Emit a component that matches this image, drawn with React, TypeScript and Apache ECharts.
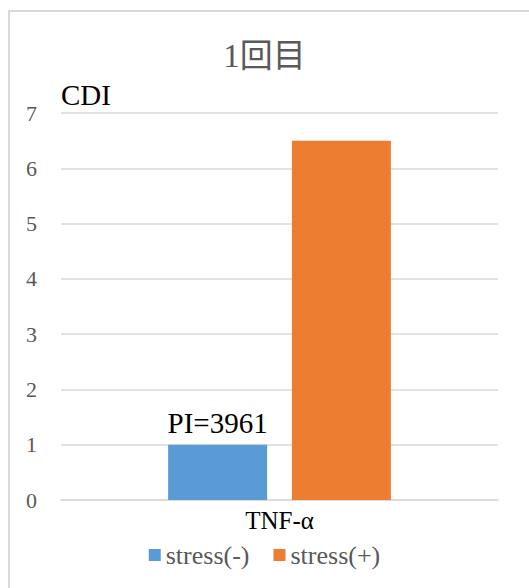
import React, { useEffect, useRef } from "react";
import * as echarts from "echarts";

const categories = ["TNF-α"];
const seriesNames = ["stress(-)", "stress(+)"];
const stressMinus = [1];
const stressPlus = [6.5];
const barLabels = ["PI=3961", ""];
const colors = ["#5B9BD5", "#ED7D31"];

const serif = "'Liberation Serif', 'Noto Sans CJK JP', serif";

export default function App() {
  const ref = useRef<HTMLDivElement>(null);

  useEffect(() => {
    if (!ref.current) return;
    const chart = echarts.init(ref.current, undefined, { renderer: "svg" });
    chart.setOption({
      animation: false,
      backgroundColor: "#ffffff",
      color: colors,
      textStyle: { fontFamily: serif },
      title: {
        text: "1回目",
        left: "center",
        top: 34,
        textStyle: { fontSize: 33, fontWeight: "normal", color: "#595959", fontFamily: serif },
      },
      graphic: [
        {
          type: "rect",
          silent: true,
          z: -1,
          shape: { x: 9, y: 11, width: 620, height: 620 },
          style: { fill: "none", stroke: "#d9d9d9", lineWidth: 2 },
        },
      ],
      legend: {
        bottom: 15,
        left: "center",
        icon: "rect",
        itemWidth: 12,
        itemHeight: 12,
        itemGap: 24,
        textStyle: { fontSize: 26, color: "#595959", fontFamily: serif },
        data: seriesNames,
      },
      grid: { left: 61, right: 31, top: 113, bottom: 88 },
      xAxis: {
        type: "category",
        data: categories,
        axisTick: { show: false },
        axisLine: { lineStyle: { color: "#d9d9d9", width: 1.5 } },
        axisLabel: { fontSize: 25, color: "#000", fontFamily: serif, margin: 8 },
      },
      yAxis: {
        type: "value",
        min: 0,
        max: 7,
        interval: 1,
        name: "CDI",
        nameLocation: "end",
        nameGap: 4,
        nameTextStyle: { fontSize: 29, color: "#000", fontFamily: serif, align: "left" },
        axisLine: { show: false },
        axisTick: { show: false },
        axisLabel: { fontSize: 22, color: "#595959", fontFamily: serif, margin: 24 },
        splitLine: { lineStyle: { color: "#d9d9d9", width: 1.5 } },
      },
      series: [
        {
          name: seriesNames[0],
          type: "bar",
          data: stressMinus,
          barWidth: 99,
          barGap: "25%",
          label: {
            show: true,
            position: "top",
            distance: 7,
            formatter: () => barLabels[0],
            fontSize: 29,
            color: "#000",
            fontFamily: serif,
          },
        },
        {
          name: seriesNames[1],
          type: "bar",
          data: stressPlus,
          barWidth: 99,
          barGap: "25%",
        },
      ],
    });
    return () => chart.dispose();
  }, []);

  return (
    <div style={{ position: "fixed", left: 0, top: 0, width: 529, height: 588, overflow: "hidden" }}>
      <div ref={ref} style={{ width: 529, height: 588 }} />
    </div>
  );
}
